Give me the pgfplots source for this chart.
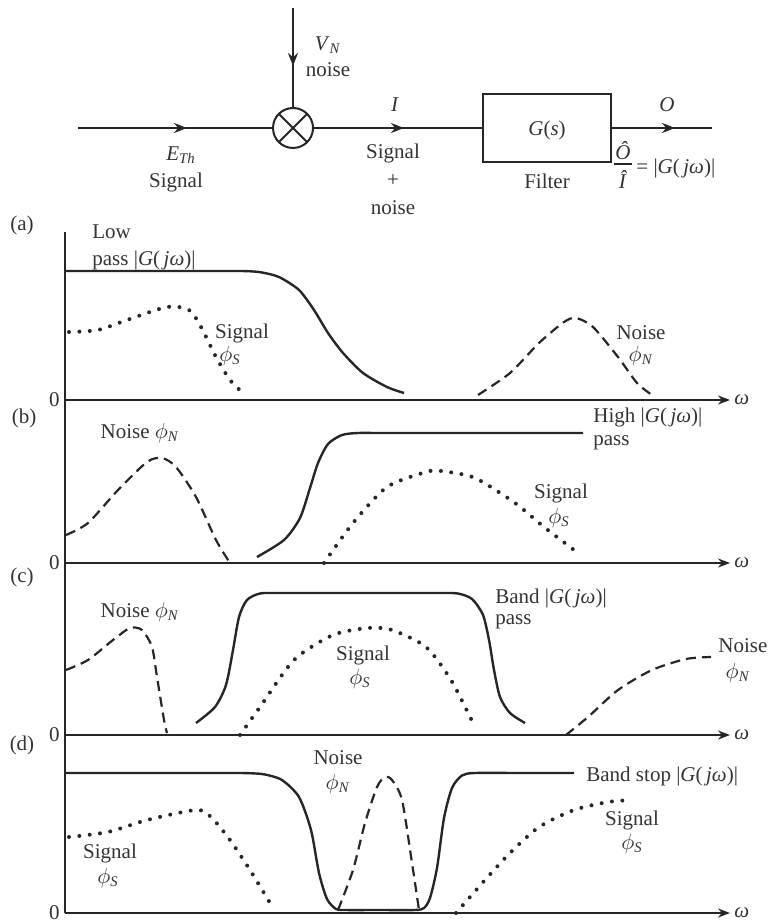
\documentclass[border=0pt]{standalone}
\usepackage{fontspec}
\setmainfont{Liberation Serif}
\usepackage{pgfplots}
\pgfplotsset{compat=1.18}
\usetikzlibrary{arrows.meta}

\newcommand{\G}{|\textit{G}(\,\textit{jω})|}
\newcommand{\phis}{$\phi$\textsubscript{\textit{S}}}
\newcommand{\phin}{$\phi$\textsubscript{\textit{N}}}

\pgfplotsset{
  panel/.style={
    scale only axis, width=332.5pt, xmin=65, xmax=730, ymin=0,
    axis lines=left, anchor=south west, clip=false,
    axis line style={line width=0.9pt, black!85},
    x axis line style={-{Stealth[length=6pt,width=4.5pt]}},
    y axis line style={-},
    xtick=\empty, ytick=\empty,
  },
  solidc/.style={black!85, line width=1.2pt, smooth, tension=0.45},
  dashedc/.style={black!85, line width=1.1pt, smooth, tension=0.45, dash pattern=on 5pt off 3pt},
  dottedc/.style={black!85, line width=2pt, smooth, tension=0.45, line cap=round, dash pattern=on 0pt off 5.2pt},
}

\begin{document}
\begin{tikzpicture}[font=\fontsize{10.5}{13}\selectfont]
\path[use as bounding box] (0,0) rectangle (384pt,-462pt);

% ---------- (a) low pass ----------
\begin{axis}[panel, at={(32.5pt,-200pt)}, height=84pt, ymax=168]
\addplot[solidc] coordinates {(65,129) (150,129) (235,129) (250,128.7) (262,127.5) (279,123) (299,110) (314,90) (328,67) (343,47) (363,27) (387,13) (404,7)};
\addplot[dottedc] coordinates {(69,68) (98,70) (127,80) (167,93) (189,90) (201,73) (216,43) (230,20) (243,7)};
\addplot[dashedc] coordinates {(478,5) (510,27) (539,57) (564,78) (576,82) (593,73) (618,43) (637,17) (652,5)};
\end{axis}

% ---------- (b) high pass ----------
\begin{axis}[panel, at={(32.5pt,-281.5pt)}, height=81.5pt, ymax=163]
\addplot[solidc] coordinates {(257,6) (284,23) (300,45) (310,75) (318,100) (328,119) (342,128) (358,130) (380,130) (450,130) (583,130)};
\addplot[dashedc] coordinates {(66,28) (88,40) (118,73) (147,101) (162,105) (176,96) (196,66) (216,23) (230,0)};
\addplot[dottedc] coordinates {(324,0) (353,40) (387,76) (426,91) (441,92) (475,85) (515,60) (544,36) (578,10)};
\end{axis}

% ---------- (c) band pass ----------
\begin{axis}[panel, at={(32.5pt,-367.5pt)}, height=86pt, ymax=172]
\addplot[solidc] coordinates {(196,12) (215,28) (226,50) (233,85) (239,118) (247,135) (260,141.5) (280,142) (360,142) (440,142) (458,141.5) (472,136) (483,120) (489,95) (494,65) (500,38) (510,22) (525,12)};
\addplot[dashedc] coordinates {(66,65) (88,75) (113,95) (130,107) (142,105) (152,88) (157,58) (164,15) (167,2)};
\addplot[dottedc] coordinates {(240,0) (260,28) (294,75) (333,100) (368,107) (392,105) (426,88) (451,55) (473,12)};
\addplot[dashedc] coordinates {(566,0) (588,18) (618,45) (652,65) (686,76) (711,78)};
\end{axis}

% ---------- (d) band stop ----------
\begin{axis}[panel, at={(32.5pt,-456.5pt)}, height=89pt, ymax=178]
\addplot[solidc] coordinates {(65,140) (150,140) (235,140) (252,139.7) (265,138.5) (282,133) (299,116) (311,83) (319,40) (327,14) (336,4) (345,3) (380,3) (415,3) (424,5) (430,15) (437,45) (444,95) (452,125) (462,137.5) (475,140) (520,140) (574,140)};
\addplot[dashedc] coordinates {(338,3) (353,43) (365,90) (377,126) (385,136) (392,133) (402,113) (412,50) (419,3)};
\addplot[dottedc] coordinates {(69,76) (108,81) (147,93) (196,103) (211,96) (230,73) (250,43) (270,10)};
\addplot[dottedc] coordinates {(456,0) (485,33) (510,60) (539,86) (574,103) (608,111) (632,113)};
\end{axis}

\begin{scope}[x=0.5pt,y=-0.5pt, every node/.style={inner sep=0pt, text=black!80}]
% ---------- block diagram ----------
\begin{scope}[line width=1pt, black!85, arr/.style={-{Stealth[length=6.5pt,width=5pt]}}]
\draw (78,128) -- (273,128);
\draw[arr] (150,128) -- (187,128);
\draw (293,128) circle[radius=10pt];
\draw (278.9,113.9) -- (307.1,142.1);
\draw (278.9,142.1) -- (307.1,113.9);
\draw (293,8) -- (293,108);
\draw[arr] (293,30) -- (293,66);
\draw (313,128) -- (483,128);
\draw[arr] (360,128) -- (404,128);
\draw (483,94) rectangle (611,162);
\draw (611,128) -- (712,128);
\draw[arr] (630,128) -- (675,128);
\draw[line width=0.6pt] (614,164) -- (632,164);
\end{scope}
\node at (328,45) {\textit{V}\textsubscript{\textit{N}}};
\node at (328,70) {noise};
\node at (181,155) {\textit{E}\textsubscript{\textit{Th}}};
\node at (176,182) {Signal};
\node at (395,105) {\textit{I}};
\node at (393,153) {Signal};
\node at (393,181) {+};
\node at (393,208) {noise};
\node at (547,130) {\textit{G}(\textit{s})};
\node at (547,181) {Filter};
\node at (667,105) {\textit{O}};
\node at (623,151) {\textit{Ô}};
\node at (623,179) {\textit{Î}};
\node[anchor=west] at (636,168) {= \G};

% ---------- panel labels ----------
\node at (22,225) {(a)};
\node at (24,418) {(b)};
\node at (22,577) {(c)};
\node at (22,745) {(d)};
\foreach \yy in {400,563,735,913} {
  \node[anchor=east] at (60,\yy) {0};
  \node[anchor=west] at (734,\yy) {\textit{ω}};
}
% (a)
\node[anchor=west] at (92,232) {Low};
\node[anchor=west] at (92,260) {pass \G};
\node at (242,333) {Signal};
\node at (230,356) {\phis};
\node at (641,333) {Noise};
\node at (641,356) {\phin};
% (b)
\node[anchor=west] at (593,417) {High \G};
\node[anchor=west] at (593,443) {pass};
\node at (140,433) {Noise \phin};
\node at (561,493) {Signal};
\node at (559,518) {\phis};
% (c)
\node[anchor=west] at (495,598) {Band \G};
\node[anchor=west] at (495,622) {pass};
\node at (140,612) {Noise \phin};
\node at (363,655) {Signal};
\node at (360,679) {\phis};
\node[anchor=west] at (718,646) {Noise};
\node at (738,673) {\phin};
% (d)
\node at (338,758) {Noise};
\node at (338,784) {\phin};
\node[anchor=west] at (586,776) {Band stop \G};
\node at (110,853) {Signal};
\node at (108,878) {\phis};
\node at (632,820) {Signal};
\node at (632,844) {\phis};
\end{scope}
\end{tikzpicture}
\end{document}
